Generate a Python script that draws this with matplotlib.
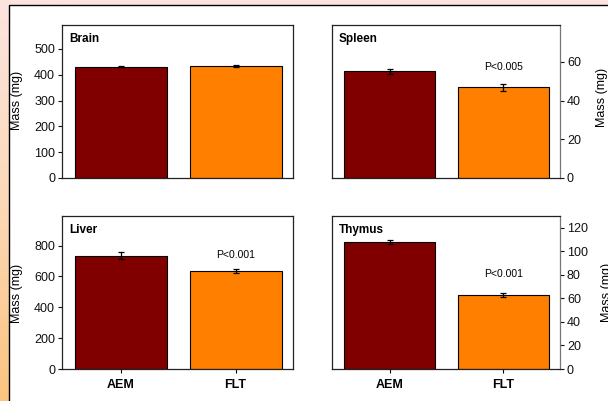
import numpy as np
import matplotlib
matplotlib.use("Agg")
import matplotlib.pyplot as plt
from matplotlib.colors import LinearSegmentedColormap
from matplotlib.patches import Rectangle

plt.rcParams['font.family'] = ['Liberation Sans', 'DejaVu Sans']

groups = ["AEM", "FLT"]
bar_colors = ["#800000", "#ff8000"]

brain_mean = [432, 435]
brain_err = [3, 3]
spleen_mean = [55, 46.8]
spleen_err = [1.2, 1.8]
liver_mean = [735, 635]
liver_err = [22, 14]
thymus_mean = [108, 63]
thymus_err = [2.0, 1.5]

spleen_p = "P<0.005"
liver_p = "P<0.001"
thymus_p = "P<0.001"

W, H = 608, 401
fig = plt.figure(figsize=(W / 100, H / 100), dpi=100)

# gradient backdrop with a white sheet laid over it
bg = fig.add_axes([0, 0, 1, 1], zorder=-10)
cmap = LinearSegmentedColormap.from_list("bg", ["#fde4df", "#fcd9b8", "#fbc47f"])
grad = np.linspace(0, 1, 256).reshape(-1, 1)
bg.imshow(grad, aspect="auto", cmap=cmap, extent=[0, W, H, 0])
bg.add_patch(Rectangle((8.5, 4.5), W, H, facecolor="white", edgecolor="black", lw=1.0))
bg.set_xlim(0, W)
bg.set_ylim(H, 0)
bg.axis("off")


def px_axes(x0, y0, x1, y1):
    return fig.add_axes([x0 / W, 1 - y1 / H, (x1 - x0) / W, (y1 - y0) / H])


def ylabel_at(px, py):
    fig.text(px / W, 1 - py / H, "Mass (mg)", rotation=90, ha="center", va="center",
             fontsize=9)


def panel(ax, means, errs, title, ylim, yticks, side, ptext=None, ppos=None, xlabels=False):
    x = np.arange(len(groups))
    ax.bar(x, means, width=0.8, color=bar_colors, edgecolor="black", linewidth=0.8, zorder=2)
    ax.errorbar(x, means, yerr=errs, fmt="none", ecolor="black", elinewidth=0.9,
                capsize=2.2, capthick=0.9, zorder=3)
    ax.set_xlim(-0.51, 1.5)
    ax.set_ylim(0, ylim)
    ax.set_yticks(yticks)
    for s in ax.spines.values():
        s.set_linewidth(0.9)
        s.set_color("#222222")
    ax.tick_params(axis="y", labelsize=9, length=3, width=0.8, pad=2, colors="#111111")
    if side == "right":
        ax.yaxis.tick_right()
        ax.spines["right"].set_color("#777777")
    if xlabels:
        ax.set_xticks(x)
        ax.set_xticklabels(groups, fontsize=9, fontweight="bold")
        ax.tick_params(axis="x", length=3, width=0.8, pad=4)
    else:
        ax.set_xticks([])
    ax.text(0.03, 0.95, title, transform=ax.transAxes, fontsize=8.5, fontweight="bold",
            va="top", ha="left")
    if ptext:
        ax.text(1, ppos, ptext, fontsize=7.5, ha="center", va="center")


ax1 = px_axes(62, 25, 293, 178)
panel(ax1, brain_mean, brain_err, "Brain", 593, [0, 100, 200, 300, 400, 500], "left")
ylabel_at(17, 100)

ax2 = px_axes(332, 25, 560, 178)
panel(ax2, spleen_mean, spleen_err, "Spleen", 79, [0, 20, 40, 60], "right", spleen_p, 57.4)
ylabel_at(601.5, 97)

ax3 = px_axes(62, 216, 293, 369)
panel(ax3, liver_mean, liver_err, "Liver", 992, [0, 200, 400, 600, 800], "left",
      liver_p, 740, xlabels=True)
ylabel_at(17, 293)

ax4 = px_axes(332, 216, 560, 369)
panel(ax4, thymus_mean, thymus_err, "Thymus", 130, [0, 20, 40, 60, 80, 100, 120], "right",
      thymus_p, 80.8, xlabels=True)
ylabel_at(607, 292)

fig.savefig("out.png", dpi=100)
